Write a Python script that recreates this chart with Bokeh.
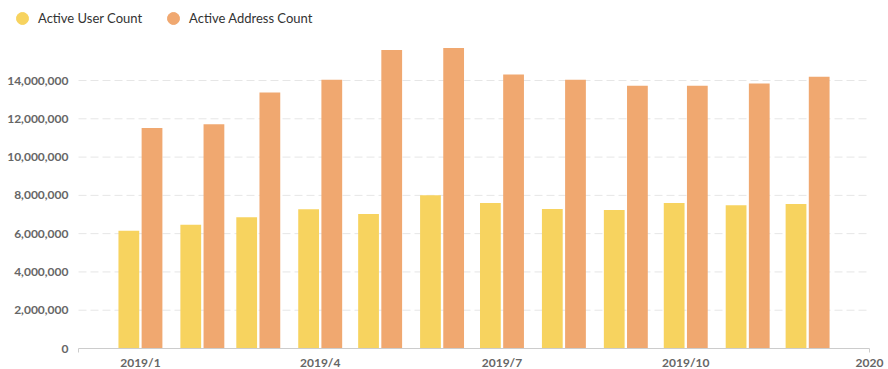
import pandas as pd
from bokeh.plotting import figure
from bokeh.models import (ColumnDataSource, Range1d, FixedTicker, NumeralTickFormatter,
                          Legend, LegendItem)
from bokeh.transform import dodge
from bokeh.embed import file_html
from bokeh.resources import INLINE

months = ["2019-01-01", "2019-02-01", "2019-03-01", "2019-04-01", "2019-05-01", "2019-06-01",
          "2019-07-01", "2019-08-01", "2019-09-01", "2019-10-01", "2019-11-01", "2019-12-01"]
active_users = [6150000, 6460000, 6860000, 7270000, 7030000, 8010000,
                7600000, 7290000, 7240000, 7600000, 7480000, 7550000]
active_addresses = [11520000, 11710000, 13380000, 14040000, 15600000, 15700000,
                    14320000, 14040000, 13730000, 13730000, 13850000, 14200000]
x_tick_dates = ["2019-01-01", "2019-04-01", "2019-07-01", "2019-10-01", "2020-01-01"]
x_tick_labels = ["2019/1", "2019/4", "2019/7", "2019/10", "2020"]
y_ticks = [0, 2000000, 4000000, 6000000, 8000000, 10000000, 12000000, 14000000]
series_names = ["Active User Count", "Active Address Count"]

YELLOW = "#F7D35F"
ORANGE = "#F0A870"
DAY = 86400000.0
FONT = "Lato"


def ms(d):
    return pd.Timestamp(d).value / 1e6


axis_start = ms("2018-12-01")
axis_end = ms("2020-01-01")

src = ColumnDataSource(dict(month=[ms(m) for m in months],
                            users=active_users, addresses=active_addresses))
grid_src = ColumnDataSource(dict(y=y_ticks[1:],
                                 x0=[axis_start] * (len(y_ticks) - 1),
                                 x1=[axis_end] * (len(y_ticks) - 1)))

p = figure(width=888, height=369, output_backend="svg", toolbar_location=None,
           x_axis_type="datetime",
           x_range=Range1d(axis_start - 39.05 * DAY, axis_end + 9.5 * DAY),
           y_range=Range1d(-1097000, 18180000),
           min_border_left=0, min_border_right=0, min_border_top=0, min_border_bottom=0)
p.outline_line_color = None
p.xgrid.grid_line_color = None
p.ygrid.grid_line_color = None

# dashed horizontal grid lines, starting at the axis origin like the reference
p.segment(x0="x0", x1="x1", y0="y", y1="y", source=grid_src,
          line_color="#e6e6e6", line_width=1, line_dash="8 4")

p.vbar(x=dodge("month", -5.8 * DAY), top="users", width=10.4 * DAY, source=src,
       fill_color=YELLOW, line_color=None)
p.vbar(x=dodge("month", 5.8 * DAY), top="addresses", width=10.4 * DAY, source=src,
       fill_color=ORANGE, line_color=None)

# legend swatches (placed outside the visible range)
hidden_x = [axis_start - 200 * DAY]
hidden_y = [-5e7]
d1 = p.scatter(x=hidden_x, y=hidden_y, marker="circle", fill_color=YELLOW, line_color=YELLOW)
d2 = p.scatter(x=hidden_x, y=hidden_y, marker="circle", fill_color=ORANGE, line_color=ORANGE)
legend = Legend(items=[LegendItem(label=series_names[0], renderers=[d1]),
                       LegendItem(label=series_names[1], renderers=[d2])],
                orientation="horizontal", location=(7, 336),
                glyph_width=30, glyph_height=30, label_standoff=1, spacing=16,
                padding=0, margin=0, border_line_color=None, background_fill_alpha=0,
                label_text_font=FONT, label_text_font_size="13px", label_text_color="#333333")
p.add_layout(legend, "center")

xa = p.xaxis[0]
xa.fixed_location = 0
xa.bounds = (axis_start, axis_end)
xa.ticker = FixedTicker(ticks=[ms(d) for d in x_tick_dates], minor_ticks=[axis_start, axis_end])
xa.major_label_overrides = {ms(d): lab for d, lab in zip(x_tick_dates, x_tick_labels)}
xa.major_tick_line_color = None
xa.major_tick_out = 0
xa.major_tick_in = 0
xa.minor_tick_line_color = "#cccccc"
xa.minor_tick_in = 0
xa.minor_tick_out = 4
xa.axis_line_color = "#cccccc"
xa.major_label_text_font = FONT
xa.major_label_text_font_size = "12px"
xa.major_label_text_font_style = "bold"
xa.major_label_text_color = "#666666"
xa.major_label_standoff = 2

ya = p.yaxis[0]
ya.fixed_location = axis_start
ya.ticker = FixedTicker(ticks=y_ticks)
ya.formatter = NumeralTickFormatter(format="0,0")
ya.axis_line_color = None
ya.major_tick_line_color = None
ya.major_tick_out = 0
ya.major_tick_in = 0
ya.minor_tick_line_color = None
ya.major_label_text_font = FONT
ya.major_label_text_font_size = "12px"
ya.major_label_text_font_style = "bold"
ya.major_label_text_color = "#666666"
ya.major_label_standoff = 10

open("out.html", "w").write(file_html(p, INLINE))
